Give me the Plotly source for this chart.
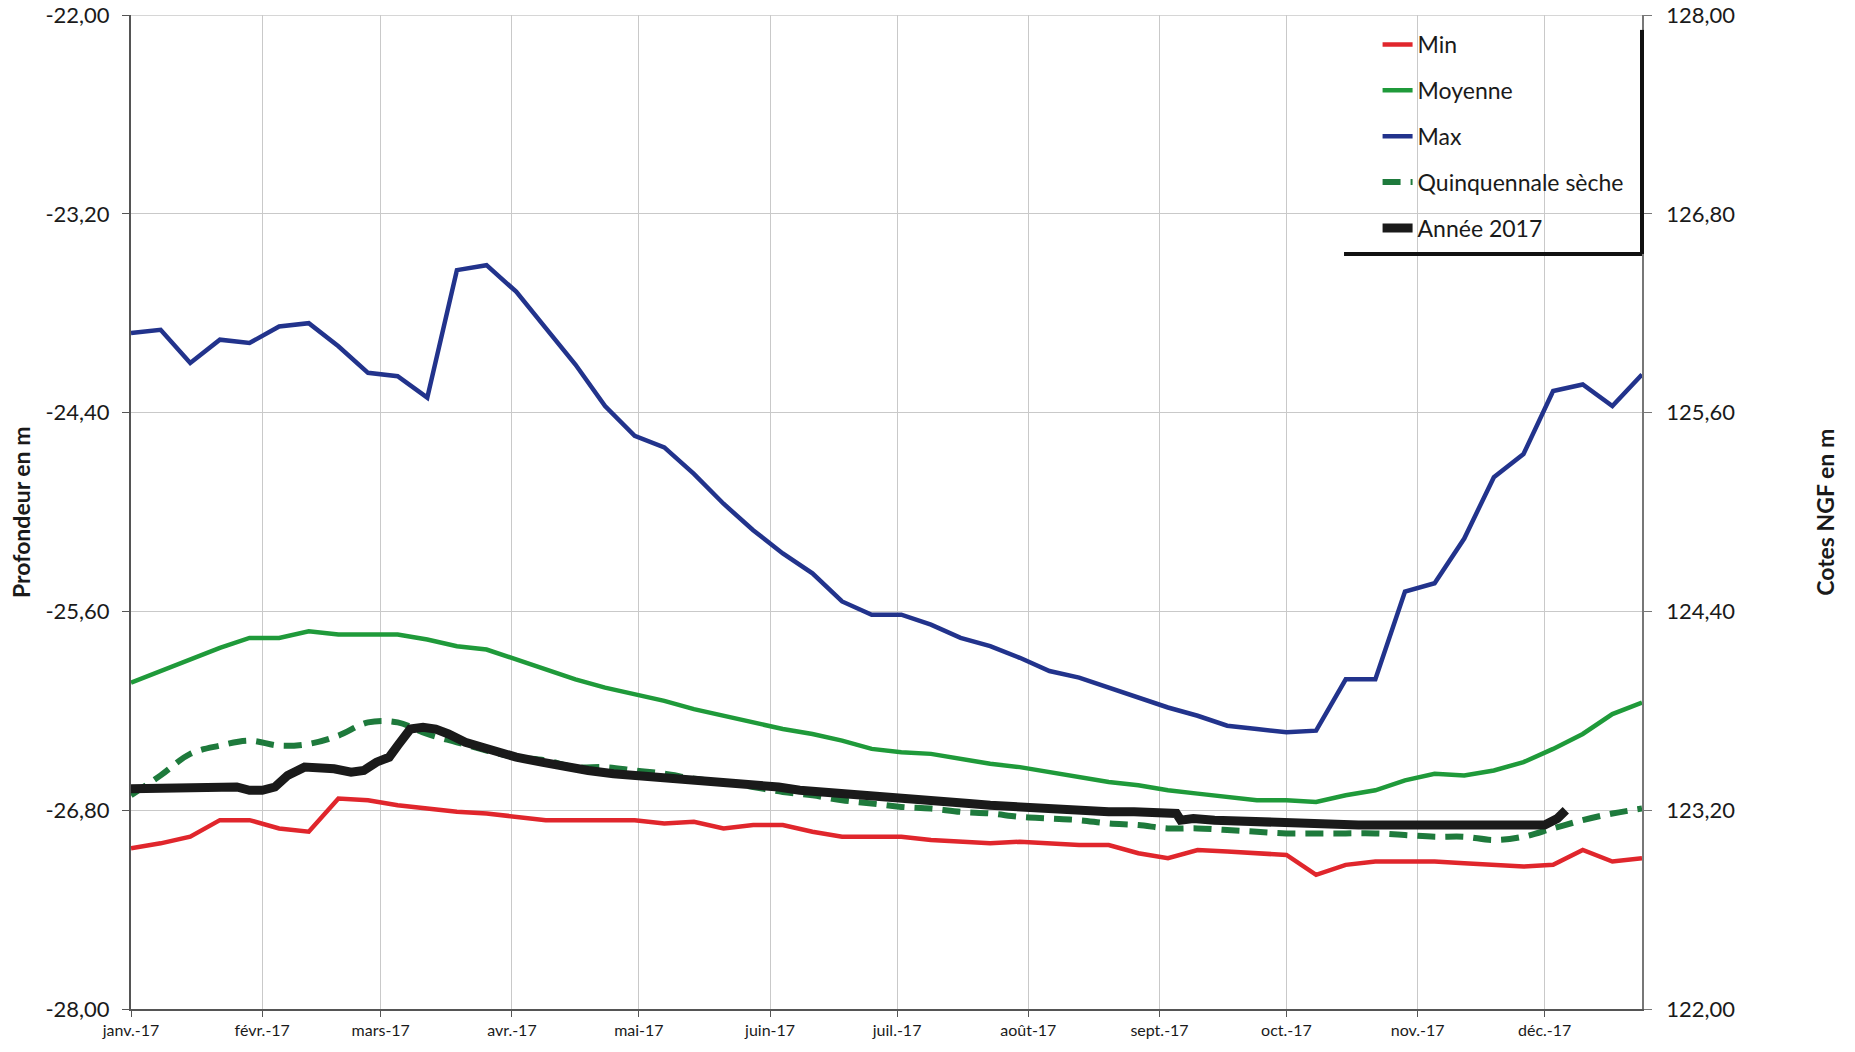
import pandas as pd
import plotly.graph_objects as go

# ---------------- DATA ----------------
weeks = pd.date_range("2017-01-01", periods=52, freq="7D")

min_vals = [-27.03, -27.00, -26.96, -26.86, -26.86, -26.91, -26.93, -26.73, -26.74, -26.77,
            -26.79, -26.81, -26.82, -26.84, -26.86, -26.86, -26.86, -26.86, -26.88, -26.87,
            -26.91, -26.89, -26.89, -26.93, -26.96, -26.96, -26.96, -26.98, -26.99, -27.00,
            -26.99, -27.00, -27.01, -27.01, -27.06, -27.09, -27.04, -27.05, -27.06, -27.07,
            -27.19, -27.13, -27.11, -27.11, -27.11, -27.12, -27.13, -27.14, -27.13, -27.04,
            -27.11, -27.09]

moy_vals = [-26.03, -25.96, -25.89, -25.82, -25.76, -25.76, -25.72, -25.74, -25.74, -25.74,
            -25.77, -25.81, -25.83, -25.89, -25.95, -26.01, -26.06, -26.10, -26.14, -26.19,
            -26.23, -26.27, -26.31, -26.34, -26.38, -26.43, -26.45, -26.46, -26.49, -26.52,
            -26.54, -26.57, -26.60, -26.63, -26.65, -26.68, -26.70, -26.72, -26.74, -26.74,
            -26.75, -26.71, -26.68, -26.62, -26.58, -26.59, -26.56, -26.51, -26.43, -26.34,
            -26.22, -26.15]

max_vals = [-23.92, -23.90, -24.10, -23.96, -23.98, -23.88, -23.86, -24.00, -24.16, -24.18,
            -24.31, -23.54, -23.51, -23.67, -23.89, -24.11, -24.36, -24.54, -24.61, -24.77,
            -24.95, -25.11, -25.25, -25.37, -25.54, -25.62, -25.62, -25.68, -25.76, -25.81,
            -25.88, -25.96, -26.00, -26.06, -26.12, -26.18, -26.23, -26.29, -26.31, -26.33,
            -26.32, -26.01, -26.01, -25.48, -25.43, -25.16, -24.79, -24.65, -24.27, -24.23,
            -24.36, -24.17]

quin_vals = [-26.71, -26.59, -26.46, -26.41, -26.38, -26.41, -26.40, -26.35, -26.27, -26.27,
             -26.34, -26.39, -26.44, -26.48, -26.50, -26.54, -26.54, -26.56, -26.58, -26.61,
             -26.63, -26.66, -26.69, -26.71, -26.74, -26.76, -26.78, -26.79, -26.81, -26.82,
             -26.84, -26.85, -26.86, -26.88, -26.89, -26.91, -26.91, -26.92, -26.93, -26.94,
             -26.94, -26.94, -26.94, -26.95, -26.96, -26.96, -26.98, -26.96, -26.91, -26.86,
             -26.82, -26.79]

y2017_dates = ["2017-01-01", "2017-01-09", "2017-01-15", "2017-01-19", "2017-01-26", "2017-01-29",
               "2017-02-01", "2017-02-04", "2017-02-07", "2017-02-11", "2017-02-14", "2017-02-18",
               "2017-02-22", "2017-02-25", "2017-02-28", "2017-03-03", "2017-03-05", "2017-03-08",
               "2017-03-11", "2017-03-14", "2017-03-17", "2017-03-21", "2017-03-25", "2017-03-29",
               "2017-04-02", "2017-04-08", "2017-04-14", "2017-04-19", "2017-04-25", "2017-04-30",
               "2017-05-06", "2017-05-12", "2017-05-17", "2017-05-23", "2017-05-28", "2017-06-03",
               "2017-06-08", "2017-06-14", "2017-06-20", "2017-06-25", "2017-07-01", "2017-07-06",
               "2017-07-12", "2017-07-18", "2017-07-23", "2017-07-29", "2017-08-03", "2017-08-09",
               "2017-08-15", "2017-08-20", "2017-08-26", "2017-09-05", "2017-09-06", "2017-09-09",
               "2017-09-14", "2017-09-23", "2017-10-01", "2017-10-10", "2017-10-18", "2017-10-27",
               "2017-11-04", "2017-11-12", "2017-11-18", "2017-11-23", "2017-11-29", "2017-12-01",
               "2017-12-04", "2017-12-06"]
y2017_vals = [-26.67, -26.67, -26.67, -26.66, -26.66, -26.68,
              -26.68, -26.66, -26.59, -26.54, -26.54, -26.55,
              -26.57, -26.56, -26.51, -26.48, -26.41, -26.31,
              -26.30, -26.31, -26.34, -26.39, -26.42, -26.45,
              -26.48, -26.51, -26.54, -26.56, -26.58, -26.59,
              -26.61, -26.61, -26.63, -26.64, -26.65, -26.66,
              -26.68, -26.69, -26.70, -26.71, -26.73, -26.74,
              -26.75, -26.76, -26.77, -26.78, -26.79, -26.80,
              -26.81, -26.81, -26.81, -26.82, -26.86, -26.85,
              -26.86, -26.87, -26.88, -26.89, -26.89, -26.89,
              -26.89, -26.89, -26.90, -26.90, -26.90, -26.89,
              -26.85, -26.80]

month_ticks = ["2017-01-01", "2017-02-01", "2017-03-01", "2017-04-01", "2017-05-01", "2017-06-01",
               "2017-07-01", "2017-08-01", "2017-09-01", "2017-10-01", "2017-11-01", "2017-12-01"]
month_labels = ["janv.-17", "févr.-17", "mars-17", "avr.-17", "mai-17", "juin-17",
                "juil.-17", "août-17", "sept.-17", "oct.-17", "nov.-17", "déc.-17"]

left_ticks = [-28.0, -26.8, -25.6, -24.4, -23.2, -22.0]
left_labels = ["-28,00", "-26,80", "-25,60", "-24,40", "-23,20", "-22,00"]
right_ticks = [122.0, 123.2, 124.4, 125.6, 126.8, 128.0]
right_labels = ["122,00", "123,20", "124,40", "125,60", "126,80", "128,00"]
ngf_offset = 150.0  # Cote NGF = 150 + profondeur (-22 <-> 128)

# ---------------- FIGURE ----------------
FONT = "Lato, 'Open Sans', Arial, sans-serif"

fig = go.Figure()
fig.add_trace(go.Scatter(x=weeks, y=min_vals, mode="lines", name="Min", legendgroup="a",
                         line=dict(color="#E0262C", width=4.5)))
fig.add_trace(go.Scatter(x=weeks, y=moy_vals, mode="lines", name="Moyenne", legendgroup="b",
                         line=dict(color="#1F9A3A", width=4.5)))
fig.add_trace(go.Scatter(x=weeks, y=max_vals, mode="lines", name="Max", legendgroup="c",
                         line=dict(color="#22338C", width=4.5)))
fig.add_trace(go.Scatter(x=weeks, y=quin_vals, mode="lines", name="Quinquennale sèche", legendgroup="d",
                         line=dict(color="#1E7A3C", width=6, dash="18px,10px", shape="spline")))
fig.add_trace(go.Scatter(x=y2017_dates, y=y2017_vals, mode="lines", name="Année 2017", legendgroup="e",
                         line=dict(color="#1A1A1A", width=9)))
# NGF scale carrier on the right axis (invisible)
fig.add_trace(go.Scatter(x=weeks, y=[ngf_offset + v for v in max_vals], yaxis="y2", mode="lines",
                         line=dict(width=0, color="rgba(0,0,0,0)"), opacity=0,
                         showlegend=False, hoverinfo="skip"))

fig.update_layout(
    width=1855, height=1052,
    paper_bgcolor="white", plot_bgcolor="white",
    margin=dict(l=131, r=213, t=15, b=43, autoexpand=False),
    font=dict(family=FONT, color="#1a1a1a"),
    showlegend=True,
    legend=dict(x=0.825, y=0.992, xanchor="left", yanchor="top",
                bgcolor="rgba(255,255,255,0)", borderwidth=0,
                font=dict(size=23, family=FONT, color="#1a1a1a"),
                tracegroupgap=13, traceorder="grouped"),
    xaxis=dict(type="date", range=["2017-01-01", "2017-12-24"], automargin=False,
               tickvals=month_ticks, ticktext=month_labels,
               tickfont=dict(size=16, family="'Liberation Sans Narrow', " + FONT),
               showgrid=True, gridcolor="#C9C9C9", gridwidth=1,
               showline=True, linecolor="#555555", linewidth=2,
               ticks="outside", ticklen=6, tickcolor="#555555", zeroline=False),
    yaxis=dict(range=[-28, -22], tickvals=left_ticks, ticktext=left_labels, automargin=False,
               tickfont=dict(size=22, family=FONT), ticklabelstandoff=8,
               ticklabeloverflow="allow",
               showgrid=True, gridcolor="#C9C9C9", gridwidth=1,
               showline=True, linecolor="#555555", linewidth=2,
               ticks="outside", ticklen=7, tickcolor="#555555", zeroline=False),
    yaxis2=dict(range=[122, 128], tickvals=right_ticks, ticktext=right_labels, automargin=False,
                overlaying="y", side="right", anchor="x",
                tickfont=dict(size=22, family=FONT), ticklabelstandoff=10,
                ticklabeloverflow="allow",
                showgrid=False, showline=True, linecolor="#777777", linewidth=1.5,
                ticks="outside", ticklen=8, tickcolor="#777777", zeroline=False),
)

# Top gridline at -22,00
fig.add_shape(type="line", xref="paper", yref="y", x0=0, x1=1, y0=-22, y1=-22,
              line=dict(color="#C9C9C9", width=1.5), layer="below")

# Axis titles
fig.add_annotation(text="<b>Profondeur en m</b>", xref="paper", yref="paper",
                   x=-0.0728, y=0.5, textangle=-90, showarrow=False,
                   font=dict(size=23, family=FONT), xanchor="center", yanchor="middle")
fig.add_annotation(text="<b>Cotes NGF en m</b>", xref="paper", yref="paper",
                   x=1.121, y=0.5, textangle=-90, showarrow=False,
                   font=dict(size=23, family=FONT), xanchor="center", yanchor="middle")

# Legend frame (heavy right and bottom edges)
fig.add_shape(type="line", xref="paper", yref="paper", x0=0.8028, x1=1.0, y0=0.7596, y1=0.7596,
              line=dict(color="#111111", width=4))
fig.add_shape(type="line", xref="paper", yref="paper", x0=1.0, x1=1.0, y0=0.7596, y1=0.985,
              line=dict(color="#111111", width=4))

fig.write_html("out.html",
               config={"displayModeBar": False},
               post_script="document.body.style.margin='0';document.body.style.overflow='hidden';")
